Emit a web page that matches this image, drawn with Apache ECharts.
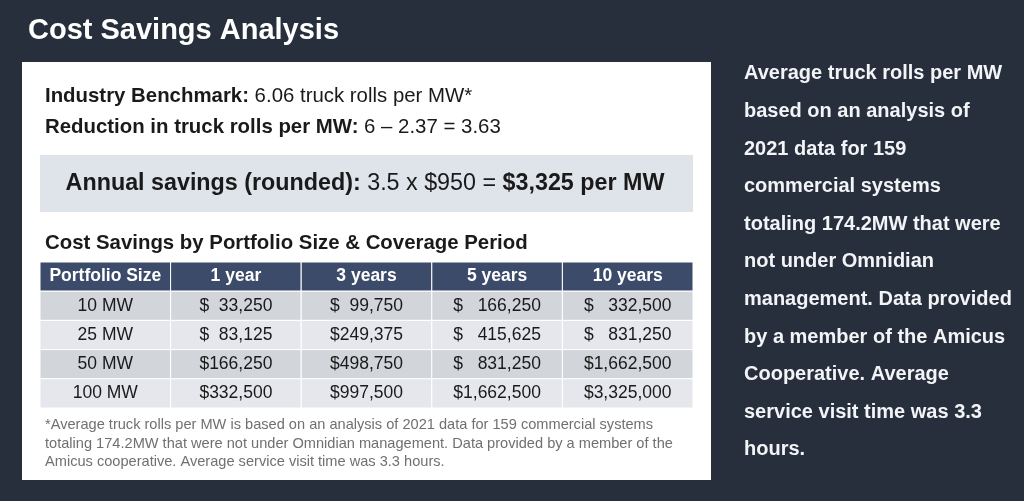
<!DOCTYPE html>
<html>
<head>
<meta charset="utf-8">
<script src="https://cdn.jsdelivr.net/npm/echarts@6/dist/echarts.min.js"></script>
<style>
  html, body { margin: 0; padding: 0; background: #262f3b; }
  #main { width: 1024px; height: 501px; }
</style>
</head>
<body>
<div id="main"></div>
<script>
// table data
var periods = ['1 year', '3 years', '5 years', '10 years'];
var portfolioSizes = ['10 MW', '25 MW', '50 MW', '100 MW'];
var savings1yr = [33250, 83125, 166250, 332500];
var savings3yr = [99750, 249375, 498750, 997500];
var savings5yr = [166250, 415625, 831250, 1662500];
var savings10yr = [332500, 831250, 1662500, 3325000];

var sideNote = [
  'Average truck rolls per MW',
  'based on an analysis of',
  '2021 data for 159',
  'commercial systems',
  'totaling 174.2MW that were',
  'not under Omnidian',
  'management. Data provided',
  'by a member of the Amicus',
  'Cooperative. Average',
  'service visit time was 3.3',
  'hours.'
];
var footNote = [
  '*Average truck rolls per MW is based on an analysis of 2021 data for 159 commercial systems',
  'totaling 174.2MW that were not under Omnidian management. Data provided by a member of the',
  'Amicus cooperative. Average service visit time was 3.3 hours.'
];

var FONT = '"Liberation Sans", Arial, sans-serif';
var CELL_SIZE = 17.5;
var columns = ['Portfolio Size'].concat(periods);
var valueCols = [savings1yr, savings3yr, savings5yr, savings10yr];

function money(v) {
  return v.toLocaleString('en-US');
}

// width of widest "$x,xxx" in each column, so the $ lines up like accounting format
var ctx = document.createElement('canvas').getContext('2d');
ctx.font = CELL_SIZE + 'px ' + FONT;
var colWidth = valueCols.map(function (col) {
  return Math.max.apply(null, col.map(function (v) {
    return ctx.measureText('$' + money(v)).width;
  }));
});

var cells = [];
for (var r = 0; r <= portfolioSizes.length; r++) {
  for (var c = 0; c < columns.length; c++) {
    cells.push([c, r]);
  }
}

function renderItem(params, api) {
  var c = api.value(0), r = api.value(1);
  var p = api.coord([c, r]);
  var s = api.size([1, 1]);
  var fill = r === 0 ? '#3d4b6b' : (r % 2 ? '#d2d5da' : '#e5e7ec');
  var children = [{
    type: 'rect',
    shape: { x: p[0] - s[0] / 2, y: p[1] - s[1] / 2, width: s[0], height: s[1] },
    style: { fill: fill, stroke: '#ffffff', lineWidth: 1 }
  }];
  var base = { y: p[1], verticalAlign: 'middle', fontFamily: FONT, fontSize: CELL_SIZE, fill: '#1a1a1a' };
  if (r === 0 || c === 0) {
    children.push({
      type: 'text',
      style: Object.assign({}, base, {
        text: r === 0 ? columns[c] : portfolioSizes[r - 1],
        x: p[0], align: 'center',
        fill: r === 0 ? '#ffffff' : '#1a1a1a',
        fontWeight: r === 0 ? 'bold' : 'normal'
      })
    });
  } else {
    var w = colWidth[c - 1];
    children.push({ type: 'text', style: Object.assign({}, base, { text: '$', x: p[0] - w / 2, align: 'left' }) });
    children.push({ type: 'text', style: Object.assign({}, base, { text: money(valueCols[c - 1][r - 1]), x: p[0] + w / 2, align: 'right' }) });
  }
  return { type: 'group', children: children };
}

var myChart = echarts.init(document.getElementById('main'));
myChart.setOption({
  backgroundColor: '#262f3b',
  animation: false,
  textStyle: { fontFamily: FONT },
  graphic: [
    { type: 'rect', shape: { x: 22, y: 62, width: 689, height: 418 }, style: { fill: '#ffffff' } },
    { type: 'rect', shape: { x: 40, y: 155, width: 653, height: 57 }, style: { fill: '#dfe3ea' } },
    {
      type: 'text', x: 28, y: 31,
      style: { text: 'Cost Savings Analysis', fill: '#ffffff', fontFamily: FONT, fontSize: 29, fontWeight: 'bold', verticalAlign: 'middle' }
    },
    {
      type: 'text', x: 45, y: 96,
      style: {
        text: '{b|Industry Benchmark:} 6.06 truck rolls per MW*',
        fill: '#1a1a1a', fontFamily: FONT, fontSize: 20.4, verticalAlign: 'middle',
        rich: { b: { fontWeight: 'bold', fontSize: 20.4, fontFamily: FONT, fill: '#1a1a1a' } }
      }
    },
    {
      type: 'text', x: 45, y: 127,
      style: {
        text: '{b|Reduction in truck rolls per MW:} 6 \u2013 2.37 = 3.63',
        fill: '#1a1a1a', fontFamily: FONT, fontSize: 20.4, verticalAlign: 'middle',
        rich: { b: { fontWeight: 'bold', fontSize: 20.4, fontFamily: FONT, fill: '#1a1a1a' } }
      }
    },
    {
      type: 'text', x: 365, y: 184,
      style: {
        text: '{b|Annual savings (rounded):} 3.5 x $950 = {b|$3,325 per MW}',
        fill: '#1a1a1a', fontFamily: FONT, fontSize: 23.3, align: 'center', verticalAlign: 'middle',
        rich: { b: { fontWeight: 'bold', fontSize: 23.3, fontFamily: FONT, fill: '#1a1a1a' } }
      }
    },
    {
      type: 'text', x: 45, y: 243,
      style: { text: 'Cost Savings by Portfolio Size & Coverage Period', fill: '#1a1a1a', fontFamily: FONT, fontSize: 20.4, fontWeight: 'bold', verticalAlign: 'middle' }
    },
    {
      type: 'text', x: 45, y: 416,
      style: { text: footNote.join('\n'), fill: '#707070', fontFamily: FONT, fontSize: 14.6, lineHeight: 18.5, verticalAlign: 'top' }
    },
    {
      type: 'text', x: 744, y: 55,
      style: { text: sideNote.join('\n'), fill: '#f2f4f7', fontFamily: FONT, fontSize: 20, fontWeight: 'bold', lineHeight: 37.6, verticalAlign: 'top' }
    }
  ],
  grid: { left: 40, right: 331, top: 262, height: 146 },
  xAxis: { type: 'category', data: columns, show: false },
  yAxis: { type: 'category', data: ['header'].concat(portfolioSizes), inverse: true, show: false },
  series: [{
    type: 'custom',
    renderItem: renderItem,
    data: cells,
    z: 10
  }]
});
</script>
</body>
</html>
